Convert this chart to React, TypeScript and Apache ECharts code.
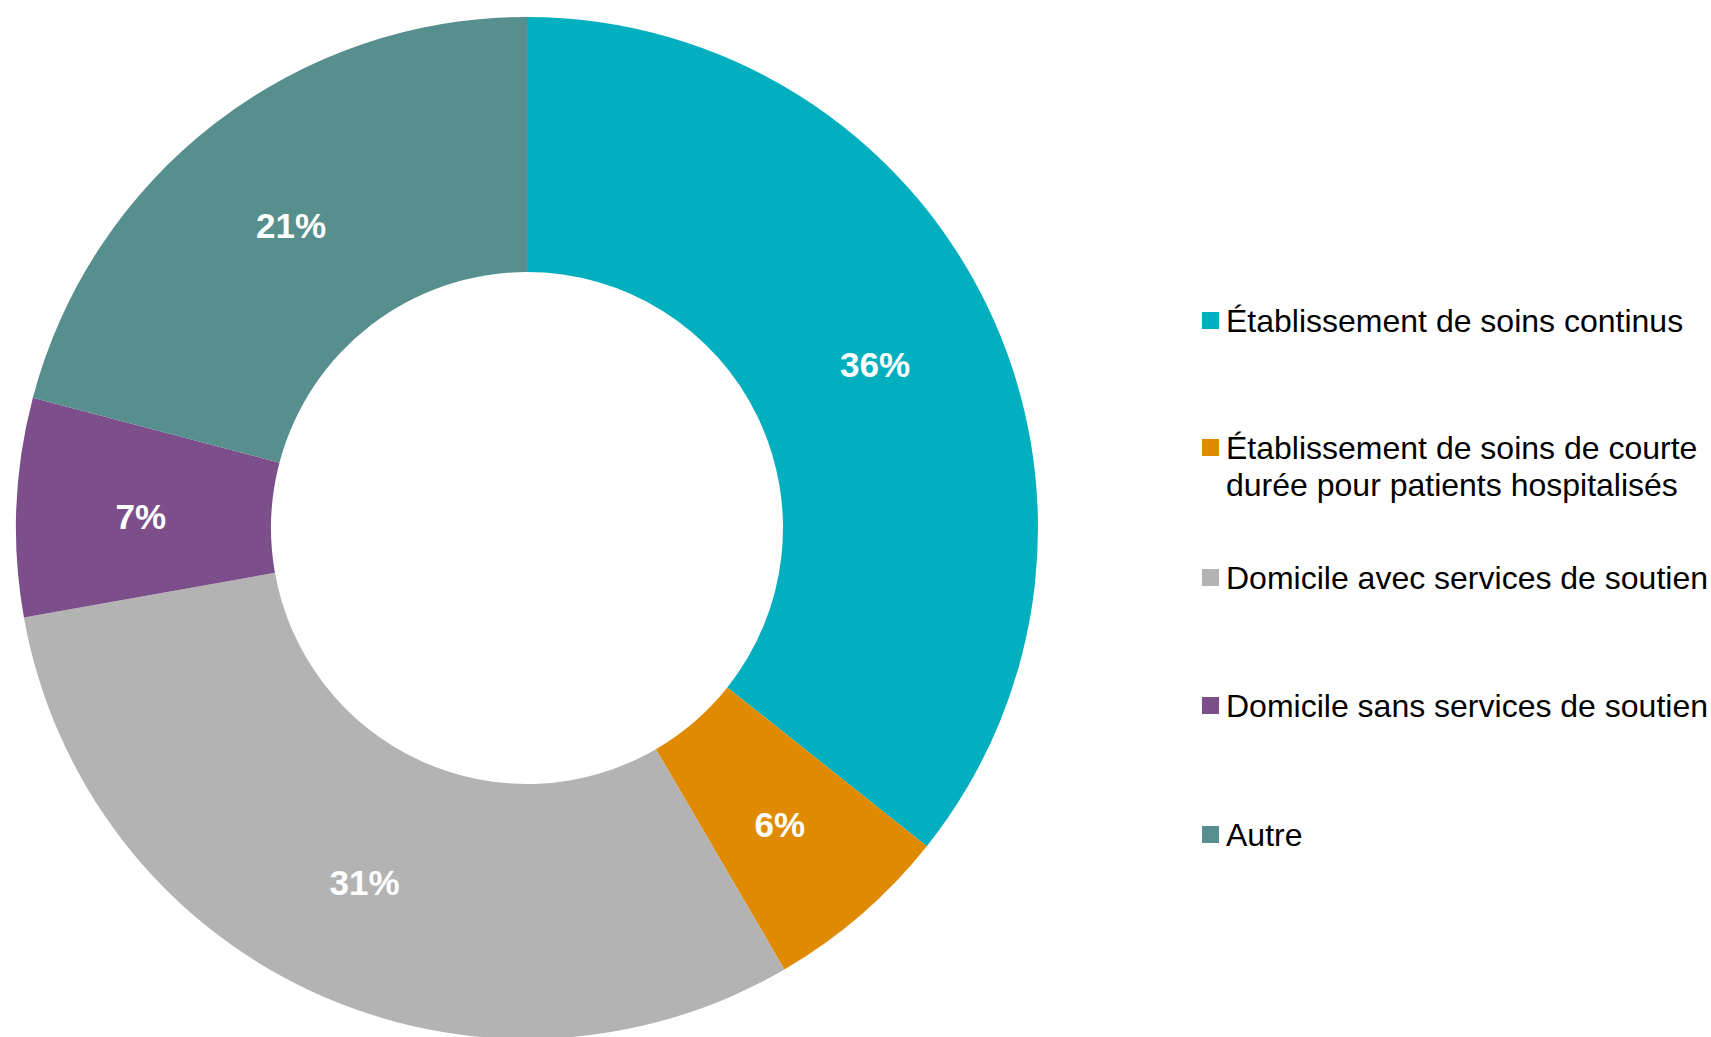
import React, { useEffect, useRef } from "react";
import * as echarts from "echarts";

const categories = [
  "Établissement de soins continus",
  "Établissement de soins de courte durée pour patients hospitalisés",
  "Domicile avec services de soutien",
  "Domicile sans services de soutien",
  "Autre",
];
const legendLabels = [
  "Établissement de soins continus",
  "\nÉtablissement de soins de courte\ndurée pour patients hospitalisés",
  "Domicile avec services de soutien",
  "Domicile sans services de soutien",
  "Autre",
];
const values = [35.7, 5.9, 30.6, 6.9, 20.9];
const valueLabels = ["36%", "6%", "31%", "7%", "21%"];
const colors = ["#02AFBF", "#E08A00", "#B3B3B3", "#7C4E8A", "#578F8E"];
const legendTops = [302, 392, 559, 687, 816];

export default function App() {
  const ref = useRef<HTMLDivElement>(null);
  useEffect(() => {
    document.body.style.margin = "0";
    if (!ref.current) return;
    const chart = echarts.init(ref.current, null, { renderer: "svg" });
    const font = "'Liberation Sans', Arial, sans-serif";
    chart.setOption({
      animation: false,
      backgroundColor: "#ffffff",
      color: colors,
      legend: categories.map((c, i) => ({
        data: [c],
        orient: "vertical",
        left: 1202,
        top: legendTops[i],
        padding: 0,
        itemWidth: 17,
        itemHeight: 17,
        icon: "rect",
        selectedMode: false,
        formatter: () => legendLabels[i],
        textStyle: {
          fontFamily: font,
          fontSize: 32,
          color: "#000000",
          lineHeight: 37,
          padding: [0, 0, 0, 2],
        },
      })),
      series: [
        {
          type: "pie",
          center: [527, 528],
          radius: [256, 511],
          startAngle: 90,
          clockwise: true,
          avoidLabelOverlap: false,
          label: {
            show: true,
            position: "inside",
            color: "#ffffff",
            fontFamily: font,
            fontWeight: "bold",
            fontSize: 35,
            offset: [0, 4],
            formatter: (p: any) => valueLabels[p.dataIndex],
          },
          labelLine: { show: false },
          emphasis: { disabled: true },
          data: categories.map((c, i) => ({
            name: c,
            value: values[i],
            itemStyle: { color: colors[i] },
          })),
        },
      ],
    });
    return () => chart.dispose();
  }, []);
  return <div ref={ref} style={{ width: 1711, height: 1037 }} />;
}
